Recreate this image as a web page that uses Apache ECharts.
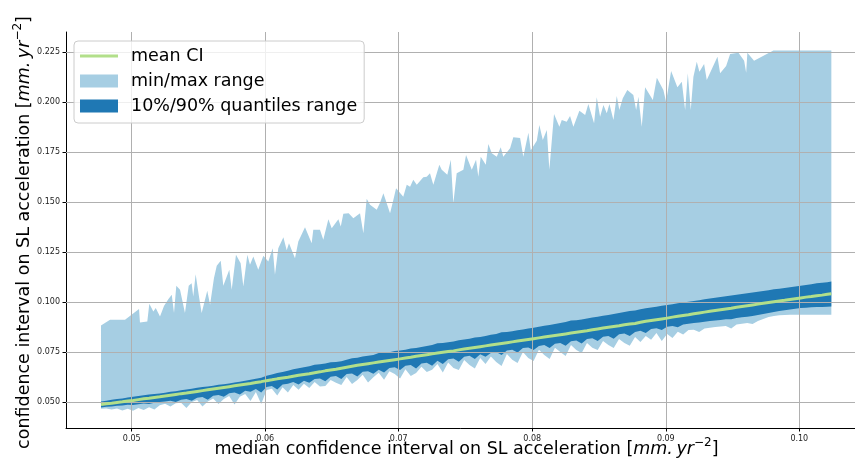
<!DOCTYPE html>
<html>
<head>
<meta charset="utf-8">
<script src="https://cdn.jsdelivr.net/npm/echarts@6/dist/echarts.min.js"></script>
<style>
html, body { margin: 0; padding: 0; background: #fff; }
#chart_ci { width: 855px; height: 466px; }
</style>
</head>
<body>
<div id="chart_ci"></div>
<script>
// x = median CI, one value per column
var xVals = [
    0.0477, 0.0481, 0.0485, 0.0489, 0.0493, 0.0497, 0.0501, 0.0505, 0.0509, 0.0513,
    0.0517, 0.0521, 0.0525, 0.0529, 0.0533, 0.0537, 0.0541, 0.0545, 0.0549, 0.0553,
    0.0557, 0.0561, 0.0565, 0.0569, 0.0573, 0.0577, 0.0581, 0.0585, 0.0589, 0.0593,
    0.0597, 0.0601, 0.0605, 0.0609, 0.0613, 0.0617, 0.0621, 0.0625, 0.0629, 0.0633,
    0.0637, 0.0641, 0.0645, 0.0649, 0.0653, 0.0657, 0.0661, 0.0665, 0.0669, 0.0673,
    0.0677, 0.0681, 0.0685, 0.0689, 0.0693, 0.0697, 0.0701, 0.0705, 0.0709, 0.0713,
    0.0717, 0.0721, 0.0725, 0.0729, 0.0733, 0.0737, 0.0741, 0.0745, 0.0749, 0.0753,
    0.0757, 0.0761, 0.0765, 0.0769, 0.0773, 0.0777, 0.0781, 0.0785, 0.0789, 0.0793,
    0.0797, 0.0801, 0.0805, 0.0809, 0.0813, 0.0817, 0.0821, 0.0825, 0.0829, 0.0833,
    0.0837, 0.0841, 0.0845, 0.0849, 0.0853, 0.0857, 0.0861, 0.0865, 0.0869, 0.0873,
    0.0877, 0.0881, 0.0885, 0.0889, 0.0893, 0.0897, 0.0901, 0.0905, 0.0909, 0.0913,
    0.0917, 0.0921, 0.0925, 0.0929, 0.0933, 0.0937, 0.0941, 0.0945, 0.0949, 0.0953,
    0.0957, 0.0961, 0.0965, 0.0969, 0.0973, 0.0977, 0.0981, 0.0985, 0.0989, 0.0993,
    0.0997, 0.1001, 0.1005, 0.1009, 0.1013, 0.1017, 0.1021, 0.1024
];

// upper edge of the min/max band, read at its own (finer) x positions
var maxX = [
    0.0477, 0.04838, 0.04950, 0.05055, 0.05062, 0.05117, 0.05132, 0.05162, 0.05180, 0.05212,
    0.05242, 0.05274, 0.05300, 0.05317, 0.05334, 0.05362, 0.05399, 0.05427, 0.05449, 0.05461,
    0.05479, 0.05506, 0.05524, 0.05566, 0.05587, 0.05616, 0.05637, 0.05667, 0.05686, 0.05731,
    0.05749, 0.05781, 0.05816, 0.05836, 0.05866, 0.05886, 0.05911, 0.05948, 0.05986, 0.06023,
    0.06056, 0.06073, 0.06098, 0.06136, 0.06161, 0.06178, 0.06223, 0.06248, 0.06298, 0.06348,
    0.06360, 0.06410, 0.06435, 0.06473, 0.06498, 0.06548, 0.06566, 0.06585, 0.06625, 0.06660,
    0.06710, 0.06735, 0.06760, 0.06785, 0.06835, 0.06860, 0.06885, 0.06935, 0.06960, 0.06980,
    0.07034, 0.07060, 0.07085, 0.07109, 0.07135, 0.07184, 0.07210, 0.07234, 0.07259, 0.07304,
    0.07322, 0.07364, 0.07390, 0.07409, 0.07434, 0.07484, 0.07504, 0.07547, 0.07579, 0.07596,
    0.07614, 0.07652, 0.07671, 0.07697, 0.07734, 0.07764, 0.07783, 0.07834, 0.07858, 0.07909,
    0.07933, 0.07971, 0.07989, 0.08034, 0.08053, 0.08079, 0.08109, 0.08128, 0.08163, 0.08203,
    0.08221, 0.08258, 0.08283, 0.08308, 0.08353, 0.08396, 0.08420, 0.08463, 0.08483, 0.08508,
    0.08533, 0.08558, 0.08578, 0.08608, 0.08633, 0.08652, 0.08678, 0.08712, 0.08757, 0.08778,
    0.08795, 0.08820, 0.08845, 0.08903, 0.08933, 0.08982, 0.09002, 0.09040, 0.09087, 0.09120,
    0.09145, 0.09165, 0.09187, 0.09207, 0.09232, 0.09252, 0.09287, 0.09307, 0.09387, 0.09407,
    0.09452, 0.09482, 0.09544, 0.09587, 0.09602, 0.09611, 0.09661, 0.09806, 0.1024
];

var maxVals = [
    0.0883, 0.0912, 0.0912, 0.0965, 0.0898, 0.0903, 0.0992, 0.0953, 0.0970, 0.0928,
    0.0980, 0.1015, 0.1037, 0.0945, 0.1082, 0.1062, 0.0945, 0.1082, 0.1095, 0.1028,
    0.1140, 0.1020, 0.0945, 0.1057, 0.0987, 0.1120, 0.1182, 0.1207, 0.1082, 0.1162,
    0.1062, 0.1237, 0.1195, 0.1078, 0.1237, 0.1187, 0.1228, 0.1162, 0.1232, 0.1203,
    0.1270, 0.1137, 0.1270, 0.1325, 0.1260, 0.1295, 0.1220, 0.1303, 0.1375, 0.1295,
    0.1362, 0.1362, 0.1312, 0.1415, 0.1370, 0.1415, 0.1378, 0.1442, 0.1445, 0.1420,
    0.1445, 0.1345, 0.1517, 0.1487, 0.1462, 0.1498, 0.1545, 0.1445, 0.1512, 0.1570,
    0.1528, 0.1587, 0.1578, 0.1612, 0.1587, 0.1625, 0.1628, 0.1645, 0.1587, 0.1687,
    0.1662, 0.1637, 0.1712, 0.1495, 0.1645, 0.1662, 0.1737, 0.1662, 0.1712, 0.1628,
    0.1728, 0.1687, 0.1792, 0.1745, 0.1728, 0.1775, 0.1728, 0.1770, 0.1825, 0.1822,
    0.1728, 0.1848, 0.1760, 0.1808, 0.1887, 0.1812, 0.1862, 0.1662, 0.1942, 0.1878,
    0.1912, 0.1903, 0.1932, 0.1878, 0.1958, 0.1937, 0.1992, 0.1895, 0.2025, 0.1928,
    0.1987, 0.1945, 0.1992, 0.1912, 0.2032, 0.1962, 0.2020, 0.2062, 0.2037, 0.1962,
    0.2028, 0.1878, 0.2075, 0.2012, 0.2123, 0.2062, 0.2003, 0.2157, 0.2075, 0.2103,
    0.1962, 0.2145, 0.1962, 0.2128, 0.2203, 0.2153, 0.2192, 0.2112, 0.2228, 0.2145,
    0.2182, 0.2242, 0.2248, 0.2208, 0.2148, 0.2248, 0.2208, 0.2260, 0.2260
];

var q90Vals = [
    0.0503, 0.0507, 0.0511, 0.0515, 0.0518, 0.0523, 0.0527, 0.0530, 0.0534, 0.0538,
    0.0540, 0.0543, 0.0546, 0.0551, 0.0554, 0.0559, 0.0563, 0.0566, 0.0571, 0.0575,
    0.0578, 0.0582, 0.0586, 0.0589, 0.0593, 0.0598, 0.0602, 0.0607, 0.0612, 0.0617,
    0.0622, 0.0632, 0.0638, 0.0645, 0.0650, 0.0656, 0.0664, 0.0669, 0.0674, 0.0679,
    0.0687, 0.0689, 0.0693, 0.0699, 0.0700, 0.0704, 0.0712, 0.0719, 0.0722, 0.0728,
    0.0732, 0.0735, 0.0745, 0.0745, 0.0749, 0.0755, 0.0758, 0.0762, 0.0768, 0.0771,
    0.0776, 0.0781, 0.0786, 0.0794, 0.0796, 0.0799, 0.0803, 0.0809, 0.0813, 0.0817,
    0.0823, 0.0826, 0.0831, 0.0837, 0.0840, 0.0849, 0.0850, 0.0854, 0.0859, 0.0863,
    0.0868, 0.0872, 0.0877, 0.0882, 0.0886, 0.0891, 0.0895, 0.0900, 0.0908, 0.0909,
    0.0913, 0.0918, 0.0923, 0.0927, 0.0932, 0.0936, 0.0941, 0.0945, 0.0950, 0.0955,
    0.0958, 0.0964, 0.0969, 0.0973, 0.0977, 0.0982, 0.0986, 0.0990, 0.0994, 0.0998,
    0.1002, 0.1006, 0.1010, 0.1014, 0.1018, 0.1022, 0.1026, 0.1030, 0.1033, 0.1037,
    0.1041, 0.1045, 0.1048, 0.1052, 0.1056, 0.1060, 0.1064, 0.1067, 0.1071, 0.1075,
    0.1078, 0.1082, 0.1086, 0.1090, 0.1094, 0.1097, 0.1100, 0.1103
];

var meanVals = [
    0.0487, 0.0491, 0.0494, 0.0498, 0.0501, 0.0505, 0.0508, 0.0512, 0.0516, 0.0519,
    0.0523, 0.0526, 0.0530, 0.0534, 0.0538, 0.0542, 0.0545, 0.0549, 0.0553, 0.0557,
    0.0561, 0.0565, 0.0569, 0.0573, 0.0577, 0.0581, 0.0585, 0.0589, 0.0593, 0.0598,
    0.0602, 0.0607, 0.0611, 0.0616, 0.0620, 0.0624, 0.0629, 0.0634, 0.0638, 0.0642,
    0.0647, 0.0651, 0.0656, 0.0660, 0.0664, 0.0669, 0.0674, 0.0679, 0.0684, 0.0688,
    0.0692, 0.0696, 0.0700, 0.0704, 0.0708, 0.0712, 0.0716, 0.0720, 0.0724, 0.0729,
    0.0733, 0.0737, 0.0741, 0.0745, 0.0749, 0.0753, 0.0756, 0.0761, 0.0765, 0.0769,
    0.0773, 0.0777, 0.0781, 0.0785, 0.0789, 0.0793, 0.0797, 0.0801, 0.0805, 0.0809,
    0.0813, 0.0817, 0.0821, 0.0825, 0.0829, 0.0833, 0.0837, 0.0841, 0.0845, 0.0849,
    0.0853, 0.0857, 0.0862, 0.0866, 0.0870, 0.0874, 0.0878, 0.0882, 0.0887, 0.0891,
    0.0893, 0.0899, 0.0904, 0.0908, 0.0912, 0.0916, 0.0920, 0.0925, 0.0929, 0.0933,
    0.0937, 0.0942, 0.0946, 0.0950, 0.0954, 0.0958, 0.0962, 0.0966, 0.0969, 0.0974,
    0.0978, 0.0982, 0.0986, 0.0990, 0.0994, 0.0998, 0.1002, 0.1006, 0.1009, 0.1013,
    0.1017, 0.1021, 0.1025, 0.1028, 0.1032, 0.1035, 0.1039, 0.1042
];

var q10Vals = [
    0.0473, 0.0476, 0.0478, 0.0481, 0.0483, 0.0486, 0.0485, 0.0489, 0.0493, 0.0490,
    0.0497, 0.0500, 0.0503, 0.0506, 0.0500, 0.0512, 0.0515, 0.0507, 0.0522, 0.0525,
    0.0512, 0.0531, 0.0535, 0.0526, 0.0544, 0.0548, 0.0538, 0.0556, 0.0552, 0.0565,
    0.0548, 0.0575, 0.0580, 0.0563, 0.0588, 0.0592, 0.0600, 0.0588, 0.0607, 0.0596,
    0.0615, 0.0618, 0.0604, 0.0626, 0.0630, 0.0615, 0.0640, 0.0643, 0.0628, 0.0651,
    0.0654, 0.0641, 0.0662, 0.0648, 0.0670, 0.0674, 0.0660, 0.0681, 0.0685, 0.0668,
    0.0693, 0.0697, 0.0682, 0.0706, 0.0690, 0.0714, 0.0718, 0.0702, 0.0727, 0.0731,
    0.0715, 0.0739, 0.0726, 0.0746, 0.0751, 0.0735, 0.0758, 0.0762, 0.0748, 0.0770,
    0.0773, 0.0760, 0.0781, 0.0785, 0.0770, 0.0792, 0.0796, 0.0782, 0.0804, 0.0808,
    0.0793, 0.0815, 0.0819, 0.0806, 0.0827, 0.0831, 0.0817, 0.0839, 0.0843, 0.0830,
    0.0851, 0.0857, 0.0846, 0.0865, 0.0869, 0.0860, 0.0877, 0.0881, 0.0874, 0.0888,
    0.0892, 0.0895, 0.0898, 0.0902, 0.0905, 0.0908, 0.0911, 0.0914, 0.0914, 0.0920,
    0.0924, 0.0927, 0.0931, 0.0936, 0.0941, 0.0946, 0.0951, 0.0955, 0.0959, 0.0963,
    0.0967, 0.0970, 0.0972, 0.0974, 0.0975, 0.0976, 0.0977, 0.0978
];

var minVals = [
    0.0466, 0.0467, 0.0463, 0.0468, 0.0458, 0.0466, 0.0456, 0.0470, 0.0460, 0.0474,
    0.0462, 0.0484, 0.0491, 0.0478, 0.0494, 0.0497, 0.0470, 0.0500, 0.0510, 0.0478,
    0.0503, 0.0518, 0.0490, 0.0515, 0.0530, 0.0487, 0.0527, 0.0540, 0.0505, 0.0550,
    0.0490, 0.0560, 0.0567, 0.0533, 0.0574, 0.0548, 0.0585, 0.0562, 0.0592, 0.0570,
    0.0600, 0.0578, 0.0580, 0.0610, 0.0596, 0.0585, 0.0625, 0.0590, 0.0610, 0.0636,
    0.0598, 0.0624, 0.0646, 0.0612, 0.0654, 0.0640, 0.0618, 0.0664, 0.0630, 0.0645,
    0.0676, 0.0650, 0.0662, 0.0690, 0.0648, 0.0698, 0.0670, 0.0660, 0.0710, 0.0685,
    0.0668, 0.0720, 0.0690, 0.0728, 0.0700, 0.0680, 0.0740, 0.0712, 0.0695, 0.0750,
    0.0720, 0.0705, 0.0762, 0.0735, 0.0715, 0.0772, 0.0750, 0.0730, 0.0785, 0.0760,
    0.0745, 0.0796, 0.0772, 0.0760, 0.0805, 0.0785, 0.0770, 0.0815, 0.0795, 0.0782,
    0.0825, 0.0800, 0.0830, 0.0812, 0.0845, 0.0805, 0.0840, 0.0820, 0.0852, 0.0838,
    0.0860, 0.0862, 0.0850, 0.0868, 0.0872, 0.0875, 0.0878, 0.0880, 0.0868, 0.0888,
    0.0892, 0.0895, 0.0890, 0.0905, 0.0915, 0.0925, 0.0930, 0.0934, 0.0936, 0.0937,
    0.0937, 0.0937, 0.0937, 0.0937, 0.0937, 0.0937, 0.0937, 0.0937
];

var xTicks = [0.05, 0.06, 0.07, 0.08, 0.09, 0.10];
var yTicks = [0.050, 0.075, 0.100, 0.125, 0.150, 0.175, 0.200, 0.225];

var FONT = 'DejaVu Sans';

function toPairs(xs, ys) {
    var out = [];
    for (var i = 0; i < xs.length; i = i + 1) {
        out.push([xs[i], ys[i]]);
    }
    return out;
}

// filled band: upper edge left->right, then lower edge back right->left
function bandRenderer(upX, up, lowX, low, color) {
    return function (params, api) {
        var pts = [];
        for (var i = 0; i < upX.length; i = i + 1) {
            pts.push(api.coord([upX[i], up[i]]));
        }
        for (var j = lowX.length - 1; j >= 0; j = j - 1) {
            pts.push(api.coord([lowX[j], low[j]]));
        }
        return {
            type: 'polygon',
            shape: { points: pts },
            style: { fill: color, stroke: null },
            silent: true
        };
    };
}

// grid lines drawn as markLines so they sit above the filled bands (as in matplotlib)
var gridLines = [];
for (var i = 0; i < xTicks.length; i = i + 1) {
    gridLines.push({ xAxis: xTicks[i] });
}
for (var i = 0; i < yTicks.length; i = i + 1) {
    gridLines.push({ yAxis: yTicks[i] });
}

var nameRich = {
    it: { fontFamily: FONT, fontSize: 17.5, fontStyle: 'italic', color: '#000' },
    sup: { fontFamily: FONT, fontSize: 12, color: '#000', verticalAlign: 'bottom', lineHeight: 12, padding: [0, 0, 9, 0] }
};

var chart_ci = echarts.init(document.getElementById('chart_ci'));
chart_ci.setOption(option = {
    animation: false,
    backgroundColor: '#fff',
    grid: {
        left: 66,
        top: 32,
        width: 801,
        height: 396,
        containLabel: false,
        outerBoundsMode: 'none'
    },
    legend: {
        orient: 'vertical',
        left: 74,
        top: 41,
        z: 10,
        padding: [5, 7, 7, 6],
        itemGap: 5,
        itemWidth: 38,
        itemHeight: 13,
        backgroundColor: 'rgba(255,255,255,0.8)',
        borderColor: '#cccccc',
        borderWidth: 1,
        borderRadius: 4,
        itemStyle: { borderWidth: 0 },
        textStyle: { fontFamily: FONT, fontSize: 17.5, color: '#000', lineHeight: 20, padding: [0, 0, 0, 8] },
        data: [
            { name: 'mean CI', icon: 'path://M0,0L38,0L38,3L0,3Z' },
            { name: 'min/max range', icon: 'rect' },
            { name: '10%/90% quantiles range', icon: 'rect' }
        ]
    },
    xAxis: {
        type: 'value',
        min: 0.04508,
        max: 0.10507,
        minInterval: 0.01,
        maxInterval: 0.01,
        z: 3,
        axisLine: { show: true, onZero: false, lineStyle: { color: '#000', width: 1 } },
        axisTick: { show: true, length: 3.5, customValues: xTicks, lineStyle: { color: '#000', width: 1 } },
        axisLabel: {
            show: true,
            customValues: xTicks,
            margin: 7,
            fontFamily: FONT,
            fontSize: 8,
            color: '#222',
            formatter: function (v) { return v.toFixed(2); }
        },
        splitLine: { show: false },
        name: 'median confidence interval on SL acceleration [{it|mm.\u2009yr}{sup|\u22122}]',
        nameLocation: 'middle',
        nameMoveOverlap: false,
        nameGap: 12,
        nameTextStyle: { fontFamily: FONT, fontSize: 17.5, color: '#000', rich: nameRich }
    },
    yAxis: {
        type: 'value',
        min: 0.0370,
        max: 0.2352,
        minInterval: 0.025,
        maxInterval: 0.025,
        z: 3,
        axisLine: { show: true, onZero: false, lineStyle: { color: '#000', width: 1 } },
        axisTick: { show: true, length: 3.5, customValues: yTicks, lineStyle: { color: '#000', width: 1 } },
        axisLabel: {
            show: true,
            customValues: yTicks,
            margin: 6,
            fontFamily: FONT,
            fontSize: 8,
            color: '#222',
            formatter: function (v) { return v.toFixed(3); }
        },
        splitLine: { show: false },
        name: 'confidence interval on SL acceleration [{it|mm.\u2009yr}{sup|\u22122}]',
        nameLocation: 'middle',
        nameMoveOverlap: false,
        nameGap: 33,
        nameTextStyle: { fontFamily: FONT, fontSize: 17.5, color: '#000', rich: nameRich, padding: [0, 5, 0, 0] }
    },
    series: [
        {
            name: 'min/max range',
            type: 'custom',
            renderItem: bandRenderer(maxX, maxVals, xVals, minVals, '#a6cee3'),
            data: [[xVals[0], minVals[0]]],
            z: 1,
            silent: true,
            itemStyle: { color: '#a6cee3' }
        },
        {
            name: '10%/90% quantiles range',
            type: 'custom',
            renderItem: bandRenderer(xVals, q90Vals, xVals, q10Vals, '#1f78b4'),
            data: [[xVals[0], q10Vals[0]]],
            z: 2,
            silent: true,
            itemStyle: { color: '#1f78b4' }
        },
        {
            name: 'mean CI',
            type: 'line',
            data: toPairs(xVals, meanVals),
            symbol: 'none',
            silent: true,
            z: 6,
            color: '#b2df8a',
            itemStyle: { color: '#b2df8a' },
            lineStyle: { color: '#b2df8a', width: 3 },
            markLine: {
                silent: true,
                z: 4,
                precision: 4,
                symbol: ['none', 'none'],
                label: { show: false },
                lineStyle: { color: '#b0b0b0', width: 1, type: 'solid' },
                emphasis: { disabled: true },
                data: gridLines
            }
        }
    ]
});
</script>
</body>
</html>
